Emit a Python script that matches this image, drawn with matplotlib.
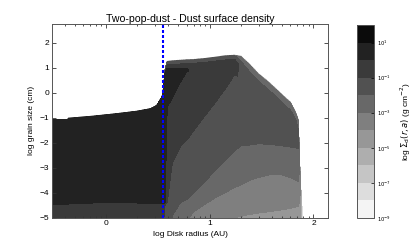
import numpy as np
import matplotlib
matplotlib.use("Agg")
import matplotlib.pyplot as plt
from matplotlib.ticker import FixedLocator, FixedFormatter, NullLocator

plt.rcParams['font.family'] = ['Liberation Sans', 'DejaVu Sans']
plt.rcParams['mathtext.fontset'] = 'dejavusans'
plt.rcParams['axes.unicode_minus'] = True

# ---------------- data (log10 units) ----------------
LEVELS = list(range(-9, 3))                 # log10 Sigma_d contour levels
CBAR_TICKS = [1, -1, -3, -5, -7, -9]
X_TICKS = [0, 1, 2]
Y_TICKS = [-5, -4, -3, -2, -1, 0, 1, 2]
GAP_EDGE_LOG_R = 0.547                      # dotted line position (log AU)

# inner disk (inside the gap edge): column profiles
INNER_LOG_R = [-0.60, -0.37, -0.36, -0.13, 0.10, 0.30, 0.43, 0.49, 0.53, 0.545]
INNER_LOG_A = [
    [-6.0, -4.49, -4.45, -1.10, -1.07, 3.0],
    [-6.0, -4.49, -4.45, -1.10, -1.07, 3.0],
    [-6.0, -4.47, -4.43, -1.04, -1.01, 3.0],
    [-6.0, -4.44, -4.40, -0.96, -0.93, 3.0],
    [-6.0, -4.42, -4.38, -0.86, -0.83, 3.0],
    [-6.0, -4.44, -4.40, -0.76, -0.73, 3.0],
    [-6.0, -4.45, -4.41, -0.66, -0.63, 3.0],
    [-6.0, -4.45, -4.41, -0.53, -0.50, 3.0],
    [-6.0, -4.46, -4.42, -0.25, -0.22, 3.0],
    [-6.0, -4.47, -4.43, -0.12, -0.09, 3.0],
]
INNER_LOG_SIG = [[-0.5, -0.5, 0.5, 0.5, -9.5, -9.5]] * len(INNER_LOG_R)

# outer disk: column profiles (log a nodes, log Sigma at those nodes)
OUTER_LOG_R = [0.545, 0.57, 0.59, 0.64, 0.72, 0.78, 0.85, 0.95, 1.05, 1.15, 1.24,
               1.30, 1.38, 1.47, 1.57, 1.68, 1.78, 1.83, 1.855, 1.875, 1.90, 2.20]
OUTER_LOG_A = [
    [-6.0, -5.5, -5.0, -4.6, -4.47, -4.43, -2.0, -0.3, -0.2, -0.12, -0.09, 3.0],
    [-6.0, -5.5, -5.2, -4.8, -4.5, -4.4, -2.0, 0.8, 0.85, 0.93, 0.97, 3.0],
    [-6.0, -5.8, -5.6, -5.4, -4.4, -0.6, 0.2, 0.97, 1.1, 1.22, 1.26, 3.0],
    [-6.0, -5.5, -5.2, -4.9, -2.8, -0.2, 0.5, 0.97, 1.12, 1.25, 1.29, 3.0],
    [-6.0, -5.6, -5.3, -4.4, -2.15, 0.43, 0.75, 0.97, 1.14, 1.27, 1.31, 3.0],
    [-6.0, -5.6, -5.1, -4.28, -1.9, 0.85, 0.91, 0.97, 1.16, 1.29, 1.33, 3.0],
    [-6.0, -5.5, -4.75, -4.0, -1.5, 0.3, 0.7, 1.0, 1.17, 1.30, 1.34, 3.0],
    [-6.0, -5.35, -4.48, -3.58, -0.95, 0.4, 0.8, 1.05, 1.2, 1.34, 1.38, 3.0],
    [-6.0, -5.2, -4.22, -3.12, -0.42, 0.6, 0.9, 1.1, 1.25, 1.39, 1.43, 3.0],
    [-6.0, -5.1, -4.0, -2.7, 0.15, 0.8, 1.0, 1.15, 1.3, 1.45, 1.49, 3.0],
    [-6.0, -5.0, -3.8, -2.32, 0.72, 1.0, 1.1, 1.2, 1.32, 1.47, 1.51, 3.0],
    [-6.0, -4.95, -3.7, -2.14, -1.0, 0.3, 0.9, 1.1, 1.25, 1.42, 1.47, 3.0],
    [-6.0, -4.88, -3.52, -2.1, -1.0, 0.0, 0.5, 0.7, 0.85, 1.1, 1.16, 3.0],
    [-6.0, -4.82, -3.4, -2.05, -1.2, -0.4, 0.1, 0.3, 0.45, 0.71, 0.77, 3.0],
    [-6.0, -4.77, -3.3, -2.07, -1.3, -0.7, -0.3, -0.05, 0.1, 0.37, 0.43, 3.0],
    [-6.0, -4.7, -3.28, -2.12, -1.6, -1.1, -0.7, -0.5, -0.33, -0.06, 0.0, 3.0],
    [-6.0, -4.63, -3.4, -2.18, -1.8, -1.4, -1.1, -0.9, -0.72, -0.44, -0.38, 3.0],
    [-6.0, -4.58, -3.5, -2.2, -1.9, -1.6, -1.4, -1.25, -1.1, -0.85, -0.79, 3.0],
    [-6.0, -4.56, -3.55, -2.25, -2.0, -1.9, -1.75, -1.6, -1.5, -1.15, -1.09, 3.0],
    [-6.0, -5.0, -4.7, -4.4, -4.2, -4.05, -3.95, -3.85, -3.75, -3.6, -3.55, 3.0],
    [-6.5, -6.3, -6.1, -5.9, -5.8, -5.7, -5.6, -5.5, -5.4, -5.3, -5.25, 3.0],
    [-6.5, -6.3, -6.1, -5.9, -5.8, -5.7, -5.6, -5.5, -5.4, -5.3, -5.25, 3.0],
]
OUTER_LOG_SIG = [
    [-0.5, -0.5, -0.5, -0.5, -0.5, 0.5, 0.5, 0.5, 0.5, 0.5, -9.5, -9.5],
    [-1.5, -1.5, -1.5, -1.2, -1.0, 0.0, 0.5, 0.3, -1.0, -2.0, -9.5, -9.5],
    [-1.8, -1.7, -1.6, -1.5, -1.0, 0.0, 0.5, 0.0, -1.0, -2.0, -9.5, -9.5],
    [-2.6, -2.4, -2.2, -2.0, -1.0, 0.0, 0.5, 0.0, -1.0, -2.0, -9.5, -9.5],
    [-3.3, -3.15, -3.0, -2.0, -1.0, 0.0, 0.5, 0.0, -1.0, -2.0, -9.5, -9.5],
    [-3.8, -3.4, -3.0, -2.0, -1.0, 0.0, 0.2, 0.0, -1.0, -2.0, -9.5, -9.5],
    [-4.4, -4.0, -3.0, -2.0, -1.0, -0.5, -0.5, -0.5, -1.0, -2.0, -9.5, -9.5],
    [-4.6, -4.0, -3.0, -2.0, -1.0, -0.5, -0.5, -0.5, -1.0, -2.0, -9.5, -9.5],
    [-4.7, -4.0, -3.0, -2.0, -1.0, -0.5, -0.5, -0.5, -1.0, -2.0, -9.5, -9.5],
    [-4.8, -4.0, -3.0, -2.0, -1.0, -0.5, -0.5, -0.5, -1.0, -2.0, -9.5, -9.5],
    [-4.9, -4.0, -3.0, -2.0, -1.0, -0.6, -0.6, -0.6, -1.0, -2.0, -9.5, -9.5],
    [-4.9, -4.0, -3.0, -2.0, -1.5, -1.4, -1.3, -1.3, -2.0, -3.0, -9.5, -9.5],
    [-5.0, -4.0, -3.0, -2.0, -1.5, -1.4, -1.3, -1.3, -2.0, -3.0, -9.5, -9.5],
    [-5.0, -4.0, -3.0, -2.0, -1.5, -1.4, -1.3, -1.3, -2.0, -3.0, -9.5, -9.5],
    [-5.1, -4.0, -3.0, -2.0, -1.5, -1.4, -1.3, -1.3, -2.0, -3.0, -9.5, -9.5],
    [-5.1, -4.0, -3.0, -2.0, -1.5, -1.4, -1.3, -1.3, -2.0, -3.0, -9.5, -9.5],
    [-5.2, -4.0, -3.0, -2.0, -1.5, -1.4, -1.3, -1.3, -2.0, -3.0, -9.5, -9.5],
    [-5.2, -4.0, -3.0, -2.0, -1.6, -1.5, -1.4, -1.4, -2.0, -3.0, -9.5, -9.5],
    [-5.3, -4.0, -3.0, -2.0, -1.9, -1.85, -1.8, -1.8, -2.0, -3.0, -9.5, -9.5],
    [-6.0, -5.0, -4.6, -4.4, -4.3, -4.25, -4.2, -4.2, -4.5, -5.0, -9.5, -9.5],
    [-8.0, -8.5, -9.0, -9.5, -9.5, -9.5, -9.5, -9.5, -9.5, -9.5, -9.5, -9.5],
    [-9.5, -9.5, -9.5, -9.5, -9.5, -9.5, -9.5, -9.5, -9.5, -9.5, -9.5, -9.5],
]

# ---------------- figure ----------------
fig = plt.figure(figsize=(4.15, 2.49), dpi=100)
ax = fig.add_axes([52 / 415, 1 - 217.5 / 249, 276 / 415, 193.5 / 249])
cax = fig.add_axes([357 / 415, 1 - 218 / 249, 17 / 415, 193 / 249])

cmap = plt.get_cmap('gray_r')


def column_grid(log_r, log_a):
    a = np.array(log_a, dtype=float)
    r = np.repeat(np.array(log_r, dtype=float)[:, None], a.shape[1], axis=1)
    return r, a


Xi, Yi = column_grid(INNER_LOG_R, INNER_LOG_A)
ax.contourf(Xi, Yi, np.array(INNER_LOG_SIG), levels=LEVELS, cmap=cmap, vmin=-9, vmax=2)
Xo, Yo = column_grid(OUTER_LOG_R, OUTER_LOG_A)
cs = ax.contourf(Xo, Yo, np.array(OUTER_LOG_SIG), levels=LEVELS, cmap=cmap, vmin=-9, vmax=2)

ax.axvline(GAP_EDGE_LOG_R, color='#0000ff', lw=1.5, linestyle=(0, (1.44, 0.96)))

ax.set_xlim(-0.52, 2.14)
ax.set_ylim(-5, 2.74)

ax.xaxis.set_major_locator(FixedLocator(X_TICKS))
ax.xaxis.set_major_formatter(FixedFormatter([str(t) for t in X_TICKS]))
minor = [n + np.log10(k) for n in range(-1, 3) for k in range(2, 10)]
ax.xaxis.set_minor_locator(FixedLocator(minor))
ax.yaxis.set_major_locator(FixedLocator(Y_TICKS))
ax.yaxis.set_major_formatter(FixedFormatter([str(t).replace('-', '\u2212') for t in Y_TICKS]))
ax.yaxis.set_minor_locator(NullLocator())

ax.tick_params(which='both', direction='in', top=True, right=True, labelsize=6,
               colors='#333333', labelcolor='black', width=0.6)
ax.tick_params(which='major', length=3.0, pad=2)
ax.tick_params(which='minor', length=1.6)
for s in ax.spines.values():
    s.set_color('#555555')
    s.set_linewidth(0.7)

ax.set_title('Two-pop-dust - Dust surface density', fontsize=7.6, pad=1.5)
ax.set_xlabel('log Disk radius (AU)', fontsize=6, labelpad=3)
ax.set_ylabel('log grain size (cm)', fontsize=6, labelpad=3)

cb = fig.colorbar(cs, cax=cax)
cb.set_ticks(CBAR_TICKS)
cb.set_ticklabels(['$10^{%d}$' % t for t in CBAR_TICKS])
cb.ax.tick_params(labelsize=3.8, direction='in', length=2.5, width=0.5, pad=2)
cb.outline.set_edgecolor('#555555')
cb.outline.set_linewidth(0.7)
cb.set_label(r'log $\Sigma_{\rm d}(r,a)$ (g cm$^{-2}$)', fontsize=6, labelpad=6)

fig.savefig('out.png', dpi=100)
